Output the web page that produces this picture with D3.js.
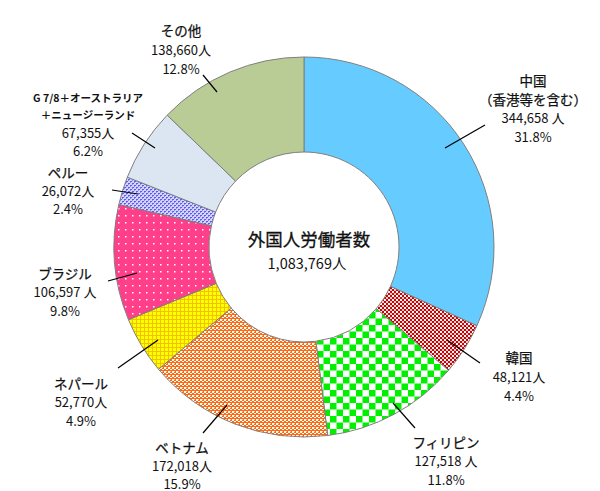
<!DOCTYPE html>
<html><head><meta charset="utf-8">
<script src="https://cdn.jsdelivr.net/npm/d3@7"></script>
<style>
html,body{margin:0;padding:0;background:#fff;}
svg{display:block;}
text{font-family:"Noto Sans CJK JP","Noto Sans",sans-serif;fill:#111;}
</style></head>
<body><svg id="c" width="600" height="491"></svg>
<script>
// ---- data ----
const categories = ["中国","韓国","フィリピン","ベトナム","ネパール","ブラジル","ペルー","G7/8＋オーストラリア＋ニュージーランド","その他"];
const nameLines = [["中国","（香港等を含む）"],["韓国"],["フィリピン"],["ベトナム"],["ネパール"],["ブラジル"],["ペルー"],["G 7/8＋オーストラリア","＋ニュージーランド"],["その他"]];
const values = [344658, 48121, 127518, 172018, 52770, 106597, 26072, 67355, 138660];
const unitSuffix = [" 人","人"," 人","人","人"," 人","人","人","人"];
const centerTitle = "外国人労働者数";
const centerUnit = "人";

// ---- layout (positions, not data) ----
const cx = 304, cy = 247, R = 190, r0 = 95;
const labelPos = [
  {x:533, y:80,  dy:18.8, l1:[445,148], l2:[485,125]},
  {x:519, y:357, dy:19,   l1:[447,340], l2:[480,363]},
  {x:446, y:442, dy:18.5, l1:[393,403], l2:[415,428]},
  {x:182, y:447, dy:18,   l1:[227,405], l2:[203,433]},
  {x:81,  y:383, dy:18.5, l1:[158,340], l2:[118,368]},
  {x:65,  y:273, dy:18.5, l1:[137,273], l2:[108,281]},
  {x:68,  y:172, dy:18,   l1:[138,194], l2:[112,190]},
  {x:88,  y:97,  dy:17.7, l1:[155,148], l2:[132,133]},
  {x:181, y:30,  dy:19,   l1:[217,92],  l2:[203,75]}
];

const svg = d3.select("#c");
const defs = svg.append("defs");

function pat(id, w, h, bg, build){
  const p = defs.append("pattern").attr("id", id).attr("patternUnits","userSpaceOnUse")
    .attr("width", w).attr("height", h);
  p.append("rect").attr("width", w).attr("height", h).attr("fill", bg);
  build(p);
}
// Korea: fine red/white check
pat("pKor", 4, 4, "#D00000", p=>{
  p.append("rect").attr("x",0).attr("y",0).attr("width",2).attr("height",2).attr("fill","#fff");
  p.append("rect").attr("x",2).attr("y",2).attr("width",2).attr("height",2).attr("fill","#f6d0d0");
});
// Philippines: large green/white check
pat("pPhi", 13, 13, "#ffffff", p=>{
  p.append("rect").attr("x",0).attr("y",0).attr("width",6.5).attr("height",6.5).attr("fill","#00F000");
  p.append("rect").attr("x",6.5).attr("y",6.5).attr("width",6.5).attr("height",6.5).attr("fill","#00F000");
});
// Vietnam: orange weave
pat("pVie", 4, 4, "#FF6A10", p=>{
  p.append("rect").attr("x",0).attr("y",0).attr("width",2).attr("height",2).attr("fill","#fff");
  p.append("rect").attr("x",2).attr("y",2).attr("width",2).attr("height",1).attr("fill","#fff");
  p.append("rect").attr("x",2).attr("y",0).attr("width",1).attr("height",1).attr("fill","#FFC8A0");
});
// Nepal: yellow with gold grid
pat("pNep", 4, 4, "#FFFF00", p=>{
  p.append("rect").attr("x",0).attr("y",0).attr("width",4).attr("height",1).attr("fill","#F2C200");
  p.append("rect").attr("x",0).attr("y",0).attr("width",1).attr("height",4).attr("fill","#F2C200");
});
// Brazil: pink with white dots
pat("pBra", 7, 7, "#FF3F8A", p=>{
  p.append("rect").attr("x",3).attr("y",3).attr("width",1.5).attr("height",1.5).attr("fill","#fff");
});
// Peru: blue-violet fine pattern
pat("pPer", 4, 4, "#D4D4FF", p=>{
  p.append("rect").attr("x",0).attr("y",0).attr("width",2).attr("height",1).attr("fill","#5A5AF2");
  p.append("rect").attr("x",2).attr("y",2).attr("width",2).attr("height",1).attr("fill","#5A5AF2");
  p.append("rect").attr("x",0).attr("y",1).attr("width",1).attr("height",1).attr("fill","#8888F8");
  p.append("rect").attr("x",2).attr("y",3).attr("width",1).attr("height",1).attr("fill","#8888F8");
});

const fills = ["#66CCFF","url(#pKor)","url(#pPhi)","url(#pVie)","url(#pNep)","url(#pBra)","url(#pPer)","#DCE6F2","#B9CC95"];

const total = d3.sum(values);
const pie = d3.pie().sort(null).value(d=>d).startAngle(0).endAngle(2*Math.PI);
const arcs = pie(values);
const arc = d3.arc().innerRadius(r0).outerRadius(R);

const g = svg.append("g").attr("transform", `translate(${cx},${cy})`);
g.selectAll("path.slice").data(arcs).join("path")
  .attr("class","slice")
  .attr("d", arc)
  .attr("fill", (d,i)=>fills[i])
  .attr("stroke","#7f7f7f")
  .attr("stroke-width",1);

// leader lines
svg.selectAll("line.lead").data(labelPos).join("line")
  .attr("x1", d=>d.l1[0]).attr("y1", d=>d.l1[1])
  .attr("x2", d=>d.l2[0]).attr("y2", d=>d.l2[1])
  .attr("stroke","#000").attr("stroke-width",1.2);

// labels
const fmt = d3.format(",");
const pct = v => (v/total*100).toFixed(1) + "%";
labelPos.forEach((p,i)=>{
  const lines = [];
  nameLines[i].forEach((t,k)=>lines.push({t, size: i===7 ? 10.5 : 13.5, w: i===7 ? 700 : 400}));
  lines.push({t: fmt(values[i]) + unitSuffix[i], size:13, w:400});
  lines.push({t: pct(values[i]), size:13, w:400});
  const tg = svg.append("g");
  lines.forEach((ln,k)=>{
    tg.append("text").attr("x", p.x).attr("y", p.y + k*p.dy)
      .attr("text-anchor","middle").attr("dominant-baseline","central")
      .style("font-size", ln.size+"px").style("font-weight", ln.w)
      .style("stroke", ln.w===400 && k < nameLines[i].length ? "#111" : "none")
      .style("stroke-width", 0.25)
      .text(ln.t);
  });
});

// center text
svg.append("text").attr("x",309).attr("y",238).attr("text-anchor","middle")
  .attr("dominant-baseline","central").style("font-size","17.5px")
  .style("stroke","#111").style("stroke-width",0.3).text(centerTitle);
svg.append("text").attr("x",307).attr("y",262).attr("text-anchor","middle")
  .attr("dominant-baseline","central").style("font-size","14.5px").text(fmt(total)+centerUnit);
</script></body></html>
